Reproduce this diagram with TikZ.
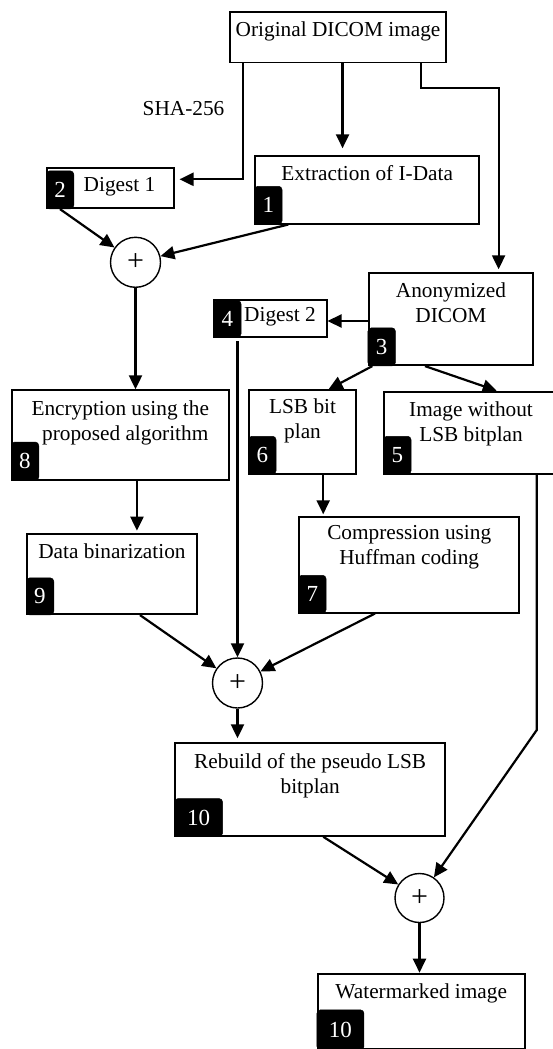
\documentclass[tikz,border=0pt]{standalone}
\usepackage{fontspec}
\setmainfont{Liberation Serif}
\usetikzlibrary{arrows.meta,calc}
\begin{document}
\begin{tikzpicture}[x=1pt,y=-1pt,
  box/.style={draw, line width=1.8pt, fill=white, rectangle, inner sep=0pt, anchor=north west},
  badge/.style={fill=black, draw=black, line width=0.5pt, rounded corners=3.5pt, text=white,
    font=\fontsize{23}{23}\selectfont, inner sep=0pt, minimum width=27.5pt, minimum height=38pt, anchor=south west},
  txt/.style={font=\fontsize{21.3}{25}\selectfont, align=center, inner sep=0pt, anchor=north},
  sum/.style={draw, circle, line width=1.4pt, minimum size=50pt, inner sep=0pt, fill=white,
    font=\fontsize{30}{30}\selectfont},
  arr/.style={line width=2.2pt, -{Triangle[length=14pt,width=13pt]}}
]
\clip (0,0) rectangle (553,1049);
\fill[white] (0,0) rectangle (553,1049);

% boxes
\node[box, minimum width=215.7pt, minimum height=50.7pt] (orig) at (229.3,11) {};
\node[box, minimum width=224pt, minimum height=67.7pt] (ext) at (254.3,155) {};
\node[box, minimum width=127.3pt, minimum height=40.6pt] (dig1) at (46,166.7) {};
\node[box, minimum width=164.6pt, minimum height=92pt] (anon) at (367.7,272.3) {};
\node[box, minimum width=112.4pt, minimum height=36.7pt] (dig2) at (213.3,299) {};
\node[box, minimum width=216.7pt, minimum height=89.7pt] (enc) at (11,389.3) {};
\node[box, minimum width=106.7pt, minimum height=83.4pt] (lsb) at (248.3,389.3) {};
\node[box, minimum width=173.7pt, minimum height=82pt] (imw) at (383.3,390.7) {};
\node[box, minimum width=220pt, minimum height=95.7pt] (comp) at (298.3,516) {};
\node[box, minimum width=170pt, minimum height=80pt] (bin) at (26,533.3) {};
\node[box, minimum width=270pt, minimum height=92.7pt] (reb) at (174.3,742.3) {};
\node[box, minimum width=207.3pt, minimum height=75.6pt] (wm) at (316.7,972.7) {};

% texts
\node[txt] (origT) at ($(orig.north)+(0,10.5)$) {Original DICOM image};
\node[txt] (extT) at ($(ext.north)+(0,10.5)$) {Extraction of I-Data};
\node[txt] (dig1T) at ($(dig1.north west)+(73.5,10.5)$) {Digest 1};
\node[txt] (anonT) at ($(anon.north)+(0,10.5)$) {Anonymized\\DICOM};
\node[txt] (dig2T) at ($(dig2.north west)+(66.7,8.5)$) {Digest 2};
\node[txt] (encT) at ($(enc.north)+(0,11)$) {Encryption using the\\\hspace*{10pt}proposed algorithm};
\node[txt] (lsbT) at ($(lsb.north)+(0,9.5)$) {LSB bit\\plan};
\node[txt] (imwT) at ($(imw.north)+(0,11)$) {Image without\\LSB bitplan};
\node[txt] (compT) at ($(comp.north)+(0,9.5)$) {Compression using\\Huffman coding};
\node[txt] (binT) at ($(bin.north)+(0,10.5)$) {Data binarization};
\node[txt] (rebT) at ($(reb.north)+(0,11)$) {Rebuild of the pseudo LSB\\bitplan};
\node[txt] (wmT) at ($(wm.north)+(0,11)$) {Watermarked image};
\node[txt, anchor=center] (sha) at (183.5,109) {SHA-256};

% badges
\node[badge] (b1) at (ext.south west) {1};
\node[badge] (b2) at (dig1.south west) {2};
\node[badge] (b3) at (anon.south west) {3};
\node[badge, minimum height=36.7pt] (b4) at (dig2.south west) {4};
\node[badge] (b5) at (imw.south west) {5};
\node[badge] (b6) at (lsb.south west) {6};
\node[badge] (b7) at (comp.south west) {7};
\node[badge, minimum height=38.5pt] (b8) at (enc.south west) {8};
\node[badge, minimum height=37pt] (b9) at (bin.south west) {9};
\node[badge, minimum width=48pt] (b10) at (reb.south west) {10};
\node[badge, minimum width=47pt, minimum height=40pt] (b11) at (wm.south west) {10};

% sum circles
\node[sum] (c1) at (135.5,262.3) {\raisebox{-4pt}{+}};
\node[sum] (c2) at (237.5,683) {\raisebox{-4pt}{+}};
\node[sum, minimum size=49pt] (c3) at (419.5,898) {\raisebox{-4pt}{+}};

% connectors
\coordinate (o1) at ($(orig.south west)+(13.4,0)$);
\draw[arr, shorten >=4.4pt] (o1) |- ($(dig1.north east)+(0,12.6)$);
\coordinate (o2) at ($(orig.south)+(4.5,0)$);
\draw[arr, shorten >=6.7pt] (o2) -- (o2 |- ext.north);
\coordinate (o3) at ($(orig.south)+(82.8,0)$);
\coordinate (a3) at ($(anon.north)+(47.7,0)$);
\draw[arr, shorten >=3pt] (o3) -- ++(0,24.3) -| (a3);

\draw[arr] ($(dig1.south west)+(14,0)$) -- (c1);
\draw[arr] ($(ext.south west)+(34,0)$) -- (c1);
\draw[arr] (c1.south) -- (c1.south |- enc.north);

\coordinate (a1) at ($(anon.north west)+(0,48.7)$);
\draw[arr] (a1) -- (a1 -| dig2.east);
\draw[arr, shorten <=3.6pt] ($(dig2.south west)+(24.2,0)$) -- (c2.north);
\draw[arr] ($(anon.south west)+(4.6,0)$) -- ($(lsb.north)+(26,0)$);
\draw[arr] ($(anon.south west)+(57.3,0)$) -- ($(imw.north west)+(113.4,0)$);

\coordinate (e1) at ($(enc.south)+(16.7,0)$);
\draw[arr, shorten >=2.6pt] (e1) -- (e1 |- bin.north);
\coordinate (l1) at ($(lsb.south)+(20.65,0)$);
\draw[arr, shorten >=1.7pt] (l1) -- (l1 |- comp.north);

\draw[arr] ($(bin.south west)+(114,0)$) -- (c2);
\draw[arr] ($(comp.south west)+(76.7,0)$) -- (c2);
\draw[arr, shorten >=4pt] (c2.south) -- (c2.south |- reb.north);

\coordinate (i1) at ($(imw.south west)+(153.4,0)$);
\draw[arr] (i1) -- ++(0,255.6) -- (c3);
\draw[arr] ($(reb.south west)+(149,0)$) -- (c3);
\draw[arr] (c3.south) -- (c3.south |- wm.north);
\end{tikzpicture}
\end{document}
